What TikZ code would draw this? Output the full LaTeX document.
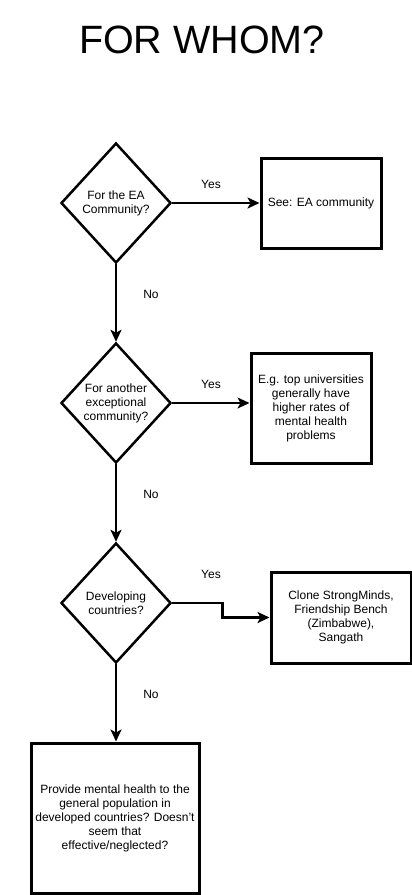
\documentclass[tikz,border=0pt]{standalone}
\usepackage{fontspec}
\setmainfont{Liberation Sans}
\usetikzlibrary{shapes.geometric,arrows.meta}
\begin{document}
\begin{tikzpicture}[x=1pt,y=-1pt,
  every node/.style={font=\fontsize{12}{14}\selectfont, align=center},
  decision/.style={shape=diamond, draw, line width=2.5pt, minimum width=110pt, minimum height=120pt, aspect=0.917, inner sep=0pt},
  outbox/.style={shape=rectangle, draw, line width=3pt, inner sep=0pt},
  conn/.style={line width=2.6pt, -{Stealth[length=12pt,width=11pt,inset=3pt]}},
  lbl/.style={inner sep=0pt}]
\useasboundingbox (0,0) rectangle (412,895);
\node[inner sep=0pt, font=\fontsize{39.5}{47}\selectfont] (title) at (202,40) {FOR WHOM?};
\node[decision] (d1) at (116,203) {For the EA\\Community?};
\node[decision] (d2) at (116,403) {For another\\exceptional\\community?};
\node[decision] (d3) at (116,603) {Developing\\countries?};
\node[outbox, minimum width=120pt, minimum height=90pt] (b1) at (321,203) {See: EA community};
\node[outbox, minimum width=120pt, minimum height=110pt] (b2) at (311,408) {E.g. top universities\\generally have\\higher rates of\\mental health\\problems};
\node[outbox, minimum width=140pt, minimum height=91pt] (b3) at (341,617.5) {Clone StrongMinds,\\Friendship Bench\\(Zimbabwe),\\Sangath};
\node[outbox, minimum width=168pt, minimum height=150pt] (b4) at (115,818) {Provide mental health to the\\general population in\\developed countries? Doesn't\\seem that\\effective/neglected?};
\draw[conn] (d1.east) -- (b1.west);
\draw[conn] (d2.east) -- (b2.west |- d2.east);
\draw[conn] (d3.east) -- ++(50,0) |- (b3.west);
\draw[conn] (d1.south) -- (d2.north);
\draw[conn] (d2.south) -- (d3.north);
\draw[conn] (d3.south) -- (b4.north -| d3.south);
\node[lbl] (y1) at (211,184) {Yes};
\node[lbl] (y2) at (211,384) {Yes};
\node[lbl] (y3) at (211,574) {Yes};
\node[lbl] (n1) at (151,294) {No};
\node[lbl] (n2) at (151,494) {No};
\node[lbl] (n3) at (151,694) {No};
\end{tikzpicture}
\end{document}
